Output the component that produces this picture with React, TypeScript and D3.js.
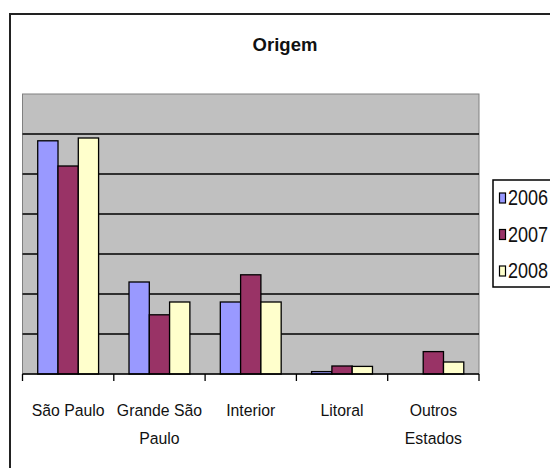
import React from "react";
import * as d3 from "d3";

const categories = ["São Paulo", "Grande São Paulo", "Interior", "Litoral", "Outros Estados"];
const categoryLines = [["São Paulo"], ["Grande São", "Paulo"], ["Interior"], ["Litoral"], ["Outros", "Estados"]];
const years = ["2006", "2007", "2008"];
const values2006 = [58.3, 23, 18, 0.6, 0];
const values2007 = [52, 14.8, 24.8, 2, 5.6];
const values2008 = [59, 18, 18, 1.9, 3];
const seriesValues = [values2006, values2007, values2008];
const colors = ["#9999FF", "#993366", "#FFFFCC"];
const gridTicks = [10, 20, 30, 40, 50, 60];
const title = "Origem";

const W = 550;
const H = 468;
const plot = { left: 22.5, top: 94, right: 479, bottom: 374 };

export default function App() {
  const x0 = d3.scaleBand<string>().domain(categories).range([plot.left, plot.right]).padding(0);
  const x1 = d3
    .scaleBand<string>()
    .domain(years)
    .range([0, x0.bandwidth()])
    .paddingInner(0)
    .paddingOuter(0.75);
  const y = d3.scaleLinear().domain([0, 70]).range([plot.bottom, plot.top]);

  const boundaries = categories.map((c) => x0(c) as number).concat([plot.right]);
  const font = "'Liberation Sans', Arial, sans-serif";

  return (
    <svg
      width={W}
      height={H}
      style={{ position: "absolute", left: 0, top: 0, background: "#fff" }}
      fontFamily={font}
    >
      <rect x={0} y={0} width={W} height={H} fill="#fff" />
      {/* chart border */}
      <path d={`M10,${H} V14 H${W}`} fill="none" stroke="#222" strokeWidth={2} />
      {/* title */}
      <text x={285} y={51} textAnchor="middle" fontWeight="bold" fontSize={18.5} fill="#111">
        {title}
      </text>
      {/* plot area */}
      <rect
        x={plot.left}
        y={plot.top}
        width={plot.right - plot.left}
        height={plot.bottom - plot.top}
        fill="#C0C0C0"
        stroke="#808080"
        strokeWidth={1}
      />
      {gridTicks.map((t) => (
        <line
          key={t}
          x1={plot.left}
          x2={plot.right}
          y1={y(t)}
          y2={y(t)}
          stroke="#000"
          strokeWidth={1.5}
        />
      ))}
      {/* bars */}
      {categories.map((c, ci) => (
        <g key={c} transform={`translate(${x0(c)},0)`}>
          {years.map((yr, si) => {
            const v = seriesValues[si][ci];
            if (v <= 0) return null;
            return (
              <rect
                key={yr}
                x={x1(yr)}
                y={y(v)}
                width={x1.bandwidth()}
                height={y(0) - y(v)}
                fill={colors[si]}
                stroke="#000"
                strokeWidth={1.3}
              />
            );
          })}
        </g>
      ))}
      {/* x axis */}
      <line x1={plot.left} x2={plot.right} y1={y(0)} y2={y(0)} stroke="#000" strokeWidth={1.5} />
      {boundaries.map((bx, i) => (
        <line key={i} x1={bx} x2={bx} y1={y(0)} y2={y(0) + 7} stroke="#000" strokeWidth={1.3} />
      ))}
      {categories.map((c, ci) => {
        const cx = (x0(c) as number) + x0.bandwidth() / 2;
        return categoryLines[ci].map((ln, li) => (
          <text
            key={c + li}
            transform={`translate(${cx},${416 + li * 28}) scale(0.93,1)`}
            textAnchor="middle"
            fontSize={17}
            fill="#111"
          >
            {ln}
          </text>
        ));
      })}
      {/* legend */}
      <rect x={493} y={180} width={70} height={107} fill="#fff" stroke="#000" strokeWidth={1.5} />
      {years.map((yr, i) => {
        const base = 205 + i * 36.5;
        return (
          <g key={yr}>
            <rect x={499.5} y={base - 12} width={6} height={10} fill={colors[i]} stroke="#000" strokeWidth={1.2} />
            <text transform={`translate(508,${base}) scale(0.82,1)`} fontSize={22} fill="#111">
              {yr}
            </text>
          </g>
        );
      })}
    </svg>
  );
}
